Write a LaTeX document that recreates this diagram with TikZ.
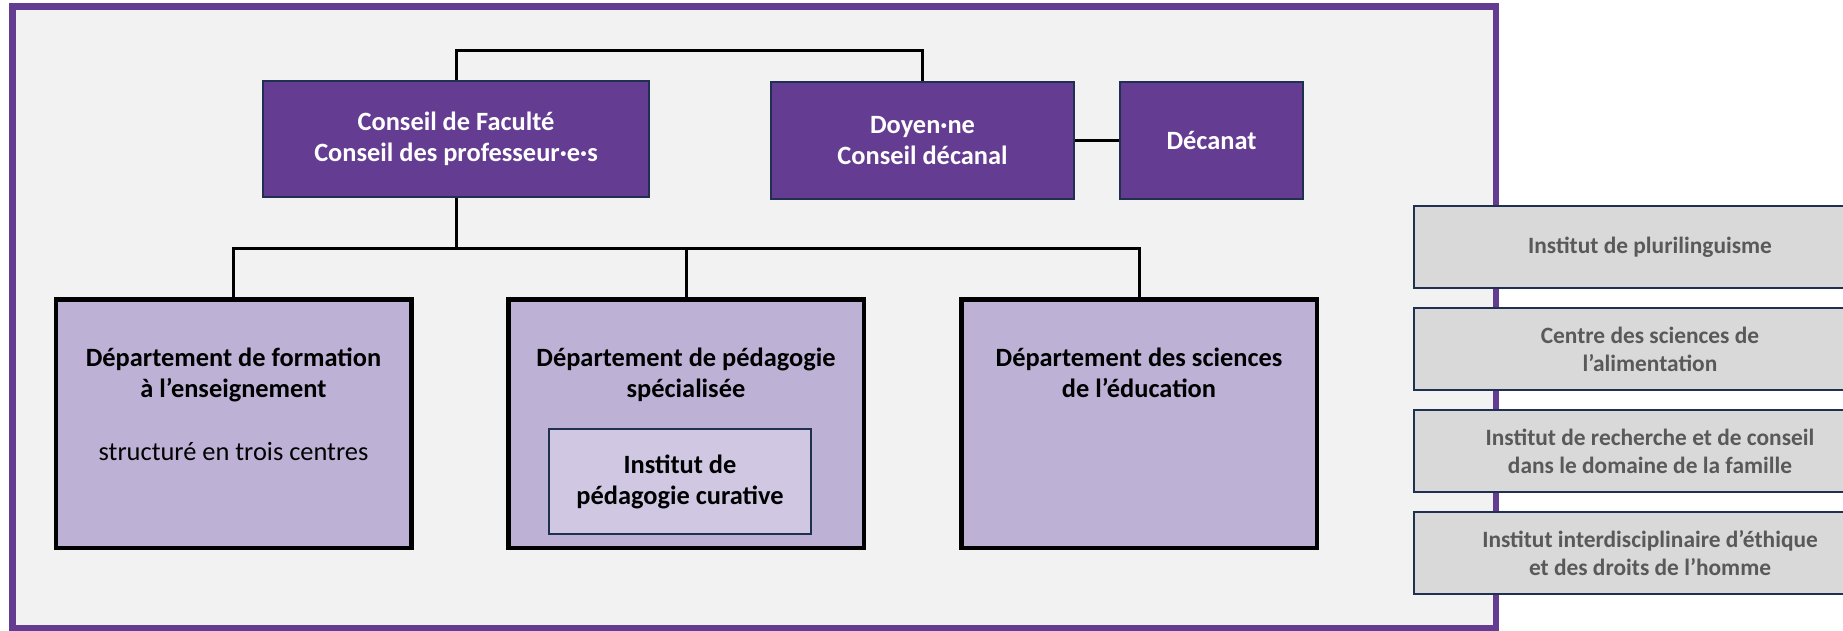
\documentclass[tikz,border=0pt]{standalone}
\usepackage{fontspec}
\setmainfont{Carlito}
\definecolor{violetfac}{RGB}{100,60,145}
\definecolor{navyb}{RGB}{31,48,80}
\definecolor{lavdept}{RGB}{189,178,214}
\definecolor{lavinner}{RGB}{208,199,227}
\definecolor{bgframe}{RGB}{242,242,242}
\definecolor{greyfill}{RGB}{217,217,217}
\definecolor{greytext}{RGB}{89,89,89}
\begin{document}
\begin{tikzpicture}[x=1pt,y=-1pt,
  topbox/.style={draw=navyb, line width=2.5pt, fill=violetfac, text=white, align=center,
    font=\fontsize{26.4}{31}\selectfont\bfseries, inner sep=0pt},
  deptbox/.style={draw=black, line width=4.5pt, fill=lavdept, minimum width=355.5pt, minimum height=248.5pt, inner sep=0pt},
  depttitle/.style={align=center, font=\fontsize{26.4}{31}\selectfont\bfseries, inner sep=0pt, anchor=base},
  innerbox/.style={draw=navyb, line width=2.5pt, fill=lavinner, align=center,
    font=\fontsize{26.4}{31}\selectfont\bfseries, inner sep=0pt, minimum width=262pt, minimum height=105pt},
  sidebox/.style={draw=navyb, line width=2.5pt, fill=greyfill, text=greytext, align=center,
    font=\fontsize{23.4}{28}\selectfont\bfseries, inner sep=0pt, minimum width=472pt, minimum height=82pt},
  conn/.style={draw=black, line width=3pt}]
\useasboundingbox (0,0) rectangle (1843,631);
\fill[white] (0,0) rectangle (1843,631);
\draw[draw=violetfac, line width=6.5pt, fill=bgframe] (12.25,6.5) rectangle (1495.75,627.75);

\coordinate (topbar) at (0,51);
\coordinate (midbar) at (0,248);
\coordinate (titlebase) at (0,397);
\coordinate (subbase) at (0,460);

\node[topbox, minimum width=386pt, minimum height=116pt] (conseil) at (456,139) {Conseil de Faculté\\Conseil des professeur·e·s};
\node[topbox, minimum width=303pt, minimum height=117pt] (doyen) at (922.5,140.5) {Doyen·ne\\Conseil décanal};
\node[topbox, minimum width=183pt, minimum height=117pt] (decanat) at (1211.5,140.5) {Décanat};

\node[deptbox] (d1) at (233.5,423.5) {};
\node[deptbox] (d2) at (686,423.5) {};
\node[deptbox] (d3) at (1139,423.5) {};

\node[depttitle] (d1t) at (d1.center |- titlebase) {Département de formation\\à l’enseignement};
\node[font=\fontsize{26.4}{31}\selectfont, inner sep=0pt, anchor=base] (d1s) at (d1.center |- subbase) {structuré en trois centres};
\node[depttitle] (d2t) at (d2.center |- titlebase) {Département de pédagogie\\spécialisée};
\node[depttitle] (d3t) at (d3.center |- titlebase) {Département des sciences\\de l’éducation};
\node[innerbox] (ipc) at (680,481.5) {Institut de\\pédagogie curative};

\node[sidebox] (s1) at (1650,247) {Institut de plurilinguisme};
\node[sidebox] (s2) at (1650,349) {Centre des sciences de\\l’alimentation};
\node[sidebox] (s3) at (1650,451) {Institut de recherche et de conseil\\dans le domaine de la famille};
\node[sidebox] (s4) at (1650,553) {Institut interdisciplinaire d’éthique\\et des droits de l’homme};

\draw[conn] (conseil.north) -- (conseil.north |- topbar) -| (doyen.north);
\draw[conn] (doyen.east) -- (decanat.west);
\draw[conn] (conseil.south) -- (conseil.south |- midbar);
\draw[conn] (d1.north) -- (d1.north |- midbar) -| (d3.north);
\draw[conn] (d2.north) -- (d2.north |- midbar);
\end{tikzpicture}
\end{document}
